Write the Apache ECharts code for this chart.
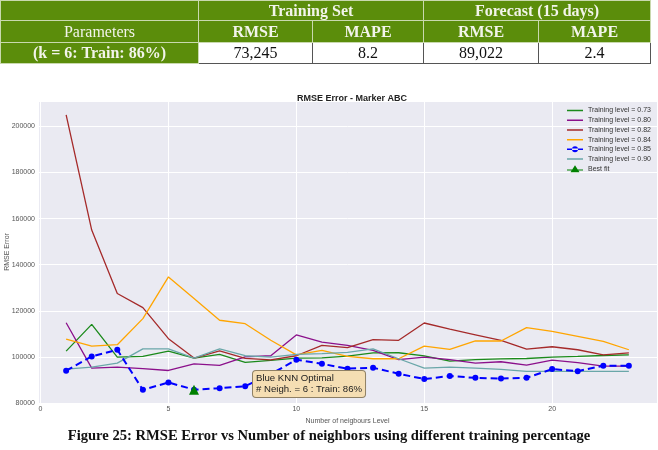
<!DOCTYPE html>
<html>
<head>
<meta charset="utf-8">
<script src="https://cdn.jsdelivr.net/npm/echarts@6.0.0/dist/echarts.min.js"></script>
<style>
	html, body { margin: 0; padding: 0; background: #fff; }
	#wrap { position: relative; width: 658px; height: 450px; overflow: hidden; }
	#main { position: absolute; left: 0; top: 0; width: 658px; height: 450px; }
	table.res {
		position: absolute; left: 0; top: 0; z-index: 2;
		border-collapse: collapse; table-layout: fixed; width: 650px;
		font-family: "Liberation Serif", "Times New Roman", serif; font-size: 16px;
	}
	table.res td { text-align: center; padding: 0; border: 1px solid #c9d9ae; line-height: 18px; }
	table.res td.g { background: #5b8d0b; color: #f2f4ea; }
	table.res td.b { font-weight: bold; }
	table.res td.w { background: #fff; color: #111; border: 1px solid #555; }
	#caption {
		position: absolute; left: 0; top: 427px; width: 658px; z-index: 2; text-align: center;
		font-family: "Liberation Serif", "Times New Roman", serif; font-weight: bold; font-size: 14.6px; color: #111;
	}
</style>
</head>
<body>
<div id="wrap">
	<div id="main"></div>
	<table class="res">
		<colgroup><col style="width:198px"><col style="width:114px"><col style="width:111px"><col style="width:115px"><col style="width:112px"></colgroup>
		<tr style="height:20px"><td class="g"></td><td class="g b" colspan="2">Training Set</td><td class="g b" colspan="2">Forecast (15 days)</td></tr>
		<tr style="height:22px"><td class="g">Parameters</td><td class="g b">RMSE</td><td class="g b">MAPE</td><td class="g b">RMSE</td><td class="g b">MAPE</td></tr>
		<tr style="height:21px"><td class="g b">(k = 6: Train: 86%)</td><td class="w">73,245</td><td class="w">8.2</td><td class="w">89,022</td><td class="w">2.4</td></tr>
	</table>
	<div id="caption">Figure 25: RMSE Error vs Number of neighbors using different training percentage</div>
</div>
<script>
/*number of neighbours*/
var neighbours = [1, 2, 3, 4, 5, 6, 7, 8, 9, 10, 11, 12, 13, 14, 15, 16, 17, 18, 19, 20, 21, 22, 23];

/*RMSE per training level*/
var level073 = [102500, 114100, 99900, 100200, 102500, 99500, 101100, 97600, 98500, 99500, 99600, 100300, 101700, 101800, 100400, 98200, 98800, 99100, 99300, 99900, 100200, 100600, 100900];
var level080 = [114800, 95100, 95600, 94900, 94100, 97000, 96300, 100000, 100500, 109500, 106400, 105000, 102800, 98800, 99900, 98800, 97300, 97900, 96400, 98600, 97500, 96000, 96000];
var level082 = [205000, 155000, 127500, 121400, 107900, 99500, 102600, 99400, 98700, 100500, 105000, 104000, 107500, 107200, 114700, 112000, 109600, 107200, 103400, 104400, 103100, 100900, 101700];
var level084 = [107700, 104700, 105300, 116600, 134700, 125300, 115900, 114400, 107200, 100900, 102800, 100200, 99200, 99200, 104700, 103300, 106900, 106900, 112700, 111100, 108900, 106700, 103100];
var level085 = [94000, 100200, 103100, 85700, 88900, 85800, 86400, 87300, 92500, 98800, 97000, 94900, 95300, 92700, 90400, 91700, 90900, 90600, 90900, 94700, 93800, 96200, 96200];
var level090 = [94700, 95600, 97300, 103500, 103500, 99500, 103500, 100500, 99900, 101100, 101400, 102000, 103500, 99200, 95100, 95600, 95100, 94600, 93700, 93700, 93700, 93700, 93700];

/*best fit point*/
var bestK = 6;
var bestRmse = 85800;

/*y ticks*/
var yMin = 80000, yMax = 211000, yStep = 20000;

/*legend icons: 16x7 box, corner specks keep the scale 1:1*/
var box = ' M0,0H0.01V0.01H0Z M15.99,6.99H16V7H15.99Z';
var iconLine = 'path://M0,2.8H16V4.3H0Z' + box;
var iconDot = 'path://M0,2.7H16V4.3H0Z M5,3.5A3,3 0 1,0 11,3.5A3,3 0 1,0 5,3.5Z' + box;
var iconTri = 'path://M0,4.2H16V5.2H0Z M8,0L12.5,7L3.5,7Z' + box;

function pairs(vals) {
	var out = [];
	for(var i = 0; i < neighbours.length; i++) {
		out.push([neighbours[i], vals[i]]);
	}
	return out;
}

function lineSeries(name, vals, color) {
	return {
		name: name,
		type: 'line',
		data: pairs(vals),
		symbol: 'none',
		lineStyle: { color: color, width: 1.3 },
		itemStyle: { color: color },
		z: 2
	};
}

var labelFont = { fontFamily: 'Liberation Sans', fontSize: 7, color: '#555' };

var myChart = echarts.init(document.getElementById('main'));
var option = {
	animation: false,
	backgroundColor: '#fff',
	title: {
		text: 'RMSE Error - Marker ABC',
		left: 347,
		top: 89,
		textAlign: 'center',
		textStyle: { fontFamily: 'Liberation Sans', fontSize: 9, fontWeight: 'bold', color: '#222' }
	},
	grid: {
		left: 38, top: 101, right: 1, bottom: 47,
		containLabel: false,
		outerBoundsMode: 'none',
		show: true, backgroundColor: '#eaeaf2', borderWidth: 0
	},
	legend: {
		orient: 'vertical',
		left: 567, top: 107,
		padding: 0,
		itemWidth: 16, itemHeight: 7, itemGap: 2.7,
		textStyle: { fontFamily: 'Liberation Sans', fontSize: 7, color: '#333' },
		data: [
			{ name: 'Training level = 0.73', icon: iconLine },
			{ name: 'Training level = 0.80', icon: iconLine },
			{ name: 'Training level = 0.82', icon: iconLine },
			{ name: 'Training level = 0.84', icon: iconLine },
			{ name: 'Training level = 0.85', icon: iconDot },
			{ name: 'Training level = 0.90', icon: iconLine },
			{ name: 'Best fit', icon: iconTri }
		]
	},
	xAxis: {
		type: 'value',
		min: -0.1, max: 24.1,
		name: 'Number of neigbours Level',
		nameLocation: 'middle',
		nameGap: 13,
		nameTextStyle: labelFont,
		axisLine: { show: false },
		axisTick: { show: false },
		axisLabel: {
			margin: 3,
			showMinLabel: false, showMaxLabel: false,
			fontFamily: 'Liberation Sans', fontSize: 7, color: '#555',
			formatter: function(v) { return v % 5 === 0 ? String(v) : ''; }
		},
		splitLine: { lineStyle: { color: '#fff', width: 1 } }
	},
	yAxis: {
		type: 'value',
		min: yMin, max: yMax, interval: yStep,
		axisLine: { show: false },
		axisTick: { show: false },
		axisLabel: {
			margin: 3,
			showMaxLabel: false,
			fontFamily: 'Liberation Sans', fontSize: 7, color: '#555',
			formatter: function(v) { return String(v); }
		},
		splitLine: { lineStyle: { color: '#fff', width: 1 } }
	},
	series: [
		lineSeries('Training level = 0.73', level073, '#1b8a1b'),
		lineSeries('Training level = 0.80', level080, '#8b108b'),
		lineSeries('Training level = 0.82', level082, '#a52a2a'),
		lineSeries('Training level = 0.84', level084, '#ffa500'),
		{
			name: 'Training level = 0.85',
			type: 'line',
			data: pairs(level085),
			symbol: 'circle',
			symbolSize: 6,
			lineStyle: { color: '#0000ff', width: 2, type: [7, 4] },
			itemStyle: { color: '#0000ff' },
			z: 3
		},
		lineSeries('Training level = 0.90', level090, '#6aa7a9'),
		{
			name: 'Best fit',
			type: 'line',
			data: [[bestK, bestRmse]],
			symbol: 'triangle',
			symbolSize: 10,
			showSymbol: true,
			lineStyle: { color: '#008000', width: 1.5 },
			itemStyle: { color: '#008000' },
			z: 4
		}
	],
	graphic: [{
		/*y axis title*/
		type: 'text',
		x: 7,
		y: 252,
		rotation: Math.PI / 2,
		style: {
			text: 'RMSE Error',
			align: 'center',
			verticalAlign: 'middle',
			fontFamily: 'Liberation Sans',
			fontSize: 7,
			fill: '#555'
		}
	}, {
		/*annotation box*/
		type: 'text',
		left: 252,
		top: 370,
		z: 10,
		style: {
			text: 'Blue KNN Optimal\n# Neigh. = 6 : Train: 86%',
			fontFamily: 'Liberation Sans',
			fontSize: 9.6,
			lineHeight: 11,
			fill: '#222',
			backgroundColor: '#f5deb3',
			borderColor: '#8f8064',
			borderWidth: 1,
			borderRadius: 3,
			padding: [2, 3, 2, 3]
		}
	}]
};
myChart.setOption(option);
</script>
</body>
</html>
